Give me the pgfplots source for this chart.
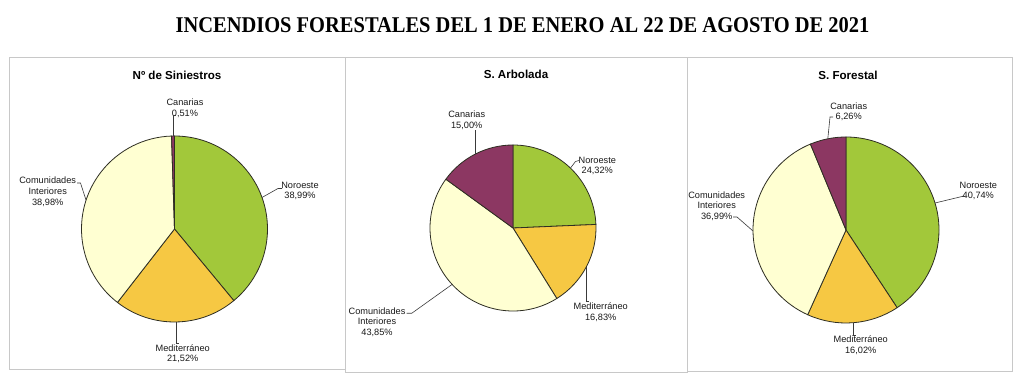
\documentclass[border=0pt]{standalone}
\usepackage{pgfplots}
\pgfplotsset{compat=1.18}
\usepackage{pgfplotstable}
\usepackage{fontspec}
\setmainfont{Liberation Sans}
\newfontfamily\serifT{Liberation Serif}

\definecolor{pgreen}{HTML}{A2C83A}
\definecolor{pyellow}{HTML}{F6C843}
\definecolor{plight}{HTML}{FFFFD2}
\definecolor{ppurple}{HTML}{8C3762}
\definecolor{pieline}{HTML}{2E2E22}
\definecolor{boxgray}{HTML}{C8C8C8}
\definecolor{leader}{HTML}{3A3A3A}
\definecolor{txt}{HTML}{1A1A1A}

% Nº de Siniestros
\pgfplotstableread{
slice value color
Noroeste 38.99 pgreen
Mediterraneo 21.52 pyellow
Interiores 38.98 plight
Canarias 0.51 ppurple
}\tabSin
% S. Arbolada
\pgfplotstableread{
slice value color
Noroeste 24.32 pgreen
Mediterraneo 16.83 pyellow
Interiores 43.85 plight
Canarias 15.00 ppurple
}\tabArb
% S. Forestal
\pgfplotstableread{
slice value color
Noroeste 40.74 pgreen
Mediterraneo 16.02 pyellow
Interiores 36.99 plight
Canarias 6.26 ppurple
}\tabFor

\newcommand{\drawpie}[2]{%
  \def\cum{0}%
  \pgfplotsforeachungrouped \i in {0,1,2,3}{%
    \pgfplotstablegetelem{\i}{value}\of#1%
    \let\pieval\pgfplotsretval
    \pgfmathsetmacro\sA{90-3.6*\cum}%
    \pgfmathsetmacro\cum{\cum+\pieval}%
    \pgfmathsetmacro\eA{90-3.6*\cum}%
    \pgfplotstablegetelem{\i}{color}\of#1%
    \edef\tmp{\noexpand\filldraw[fill=\pgfplotsretval, draw=pieline, line width=0.8pt, line join=round]
      (axis cs:0,0) -- (axis cs:{cos(\sA)},{sin(\sA)}) arc[start angle=\sA, end angle=\eA, radius=#2] -- cycle;}%
    \tmp
  }%
}

\pgfplotsset{pieaxis/.style={hide axis, xmin=-1.05, xmax=1.05, ymin=-1.05, ymax=1.05, anchor=origin, clip=false}}

\begin{document}
\begin{tikzpicture}
\fill[white] (0,0) rectangle (1024pt,390pt);
\path[use as bounding box] (0,0) rectangle (1024pt,390pt);

\begin{scope}[x=1pt,y=1pt]
\draw[boxgray, line width=0.8pt] (9,21) rectangle (345,333);
\draw[boxgray, line width=0.8pt] (345,18) rectangle (687,333);
\draw[boxgray, line width=0.8pt] (687,19) rectangle (1012,333);
\end{scope}

\begin{axis}[pieaxis, x=93pt, y=93pt, at={(174.5pt,161pt)}]
\drawpie{\tabSin}{93pt}
\end{axis}
\begin{axis}[pieaxis, x=83pt, y=83pt, at={(513pt,162pt)}]
\drawpie{\tabArb}{83pt}
\end{axis}
\begin{axis}[pieaxis, x=93pt, y=93pt, at={(846pt,160pt)}]
\drawpie{\tabFor}{93pt}
\end{axis}

\begin{scope}[x=1pt,y=1pt,
  lbl/.style={font=\fontsize{9.2}{10.6}\selectfont, align=center, text=txt, inner sep=0pt},
  ttl/.style={font=\bfseries\fontsize{11.6}{14}\selectfont, anchor=base, text=black, inner sep=0pt},
  ld/.style={leader, line width=0.6pt}]
\node[font=\serifT\bfseries\fontsize{22.5}{24}\selectfont, anchor=base, xscale=0.91, inner sep=0pt] at (522.5,357) {INCENDIOS FORESTALES DEL 1 DE ENERO AL 22 DE AGOSTO DE 2021};

\node[ttl] at (177,310) {Nº de Siniestros};
\node[ttl] at (516,311) {S. Arbolada};
\node[ttl] at (848,310) {S. Forestal};

% panel 1
\node[lbl] at (185,281.5) {Canarias\\0,51\%};
\node[lbl] at (300,199.2) {Noroeste\\38,99\%};
\node[lbl] at (47.7,198.2) {Comunidades\\Interiores\\38,98\%};
\node[lbl] at (182.7,36.3) {Mediterráneo\\21,52\%};
\draw[ld] (173,254) -- (173,275) -- (176,275);
\draw[ld] (262,192.5) -- (278,201.5) -- (282,201.5);
\draw[ld] (86,190) -- (80.5,207) -- (77,207);
\draw[ld] (176,68) -- (176,46.5) -- (179,46.5);

% panel 2
\node[lbl] at (466.7,269.7) {Canarias\\15,00\%};
\node[lbl] at (597.3,224.2) {Noroeste\\24,32\%};
\node[lbl] at (600.7,77.8) {Mediterráneo\\16,83\%};
\node[lbl] at (377,68) {Comunidades\\Interiores\\43,85\%};
\draw[ld] (475.3,236) -- (475.3,259.5);
\draw[ld] (570.5,222) -- (575.5,228.5) -- (579,229.5);
\draw[ld] (586.5,123) -- (586.5,88.5) -- (589,88.5);
\draw[ld] (452,105.5) -- (411.7,76.7) -- (406.7,76.7);

% panel 3
\node[lbl] at (848.7,278.2) {Canarias\\6,26\%};
\node[lbl] at (978.3,199) {Noroeste\\40,74\%};
\node[lbl] at (860.7,44.8) {Mediterráneo\\16,02\%};
\node[lbl] at (716.7,184.1) {Comunidades\\Interiores\\36,99\%};
\draw[ld] (827.8,251.2) -- (830,273) -- (833,273);
\draw[ld] (935,187) -- (962,193.5) -- (965,193.5);
\draw[ld] (853.3,67.3) -- (853.3,55) -- (856,55);
\draw[ld] (753,159) -- (737,173) -- (733,173);
\end{scope}
\end{tikzpicture}
\end{document}
